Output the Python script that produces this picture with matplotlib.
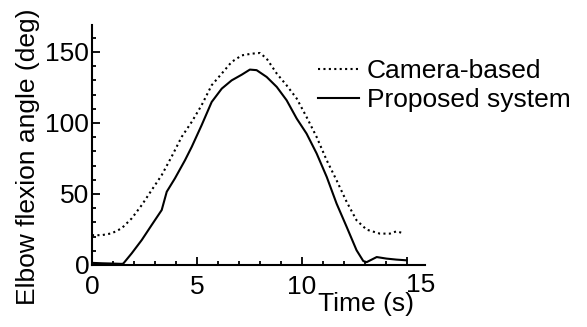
"""
Elbow flexion angle over time: camera-based reference vs proposed system.
"""

import numpy as np
import matplotlib.pyplot as plt
from matplotlib.ticker import MultipleLocator
from matplotlib.transforms import ScaledTranslation

plt.rcParams["font.family"] = ["Liberation Sans", "DejaVu Sans"]

# ---- Data ----
t_cam = [0.0, 0.46, 0.94, 1.41, 1.89, 2.37, 2.84, 3.32, 3.79, 4.27, 4.75,
         5.22, 5.70, 6.18, 6.65, 7.13, 7.6, 8.0, 8.32, 8.8, 9.27, 9.75,
         10.22, 10.7, 11.18, 11.65, 12.13, 12.6, 13.08, 13.71, 14.19, 14.5,
         14.8]
ang_cam = [21, 21, 22.3, 25.8, 32.8, 42.2, 52.7, 63.3, 76.2, 90.2, 100.8,
           112.5, 126.6, 134.8, 143, 147.6, 148.8, 149.3, 145.3, 134.8, 126.5,
           117.2, 104.2, 90.1, 73.7, 59.6, 44.4, 31.5, 24.9, 22.1, 22.1, 23.7,
           22.5]

t_prop = [0.0, 0.5, 1.0, 1.41, 1.49, 1.89, 2.37, 2.84, 3.32, 3.56, 3.95,
          4.43, 4.75, 5.22, 5.70, 6.18, 6.65, 7.13, 7.52, 7.84, 8.32, 8.8,
          9.27, 9.75, 10.22, 10.7, 11.18, 11.65, 12.13, 12.6, 12.92, 13.08,
          13.56, 14.03, 14.5, 14.98]
ang_prop = [1.5, 1.2, 1.0, 0.8, 1.0, 8.2, 17.6, 28.1, 38.7, 51.6, 61, 73.8,
            83.2, 98.4, 114.8, 124.2, 130, 134, 137.6, 137.2, 132.4, 125.4,
            116, 103.1, 92.5, 78.5, 62, 43.2, 26.8, 10.4, 2.8, 2.0, 5.6, 4.5,
            3.8, 3.3]

# ---- Plot ----
fig = plt.figure(figsize=(5.87, 3.27), dpi=100)
ax = fig.add_axes([92 / 587, 1 - 265 / 327, 333 / 587, 240 / 327])

ax.plot(t_cam, ang_cam, color="black", lw=1.5, ls=(0, (1, 1.6)),
        label="Camera-based")
ax.plot(t_prop, ang_prop, color="black", lw=1.5, label="Proposed system")

ax.set_xlim(0, 15.86)
ax.set_ylim(0, 169)
ax.set_xticks([0, 5, 10, 15])
ax.set_yticks([0, 50, 100, 150])
ax.xaxis.set_minor_locator(MultipleLocator(1))
ax.yaxis.set_minor_locator(MultipleLocator(10))
ax.tick_params(which="both", direction="in", width=1.3, labelsize=19)
ax.tick_params(which="major", length=6)
ax.tick_params(which="minor", length=3)
ax.tick_params(axis="x", which="major", pad=7)
ax.tick_params(axis="y", which="major", pad=2)

# in the original the "15" sits right of its tick, slightly raised
lbl15 = ax.get_xticklabels()[-1]
lbl15.set_transform(lbl15.get_transform()
                    + ScaledTranslation(0.14, 0.02, fig.dpi_scale_trans))

for side in ["top", "right"]:
    ax.spines[side].set_visible(False)
for side in ["left", "bottom"]:
    ax.spines[side].set_linewidth(1.5)

ax.set_xlabel("Time (s)", fontsize=19)
ax.xaxis.set_label_coords((366 - 92) / 333, (265 - 292) / 240)
ax.set_ylabel("Elbow flexion angle (deg)", fontsize=19)
ax.yaxis.set_label_coords((40 - 92) / 333, (265 - 157) / 240)

ax.legend(loc="upper left", bbox_to_anchor=(318 / 587, 1 - 59 / 327),
          bbox_transform=fig.transFigure, frameon=False, fontsize=19,
          handlelength=1.55, handletextpad=0.3, labelspacing=0.2,
          borderaxespad=0, borderpad=0)

plt.savefig("out.png", dpi=100)
